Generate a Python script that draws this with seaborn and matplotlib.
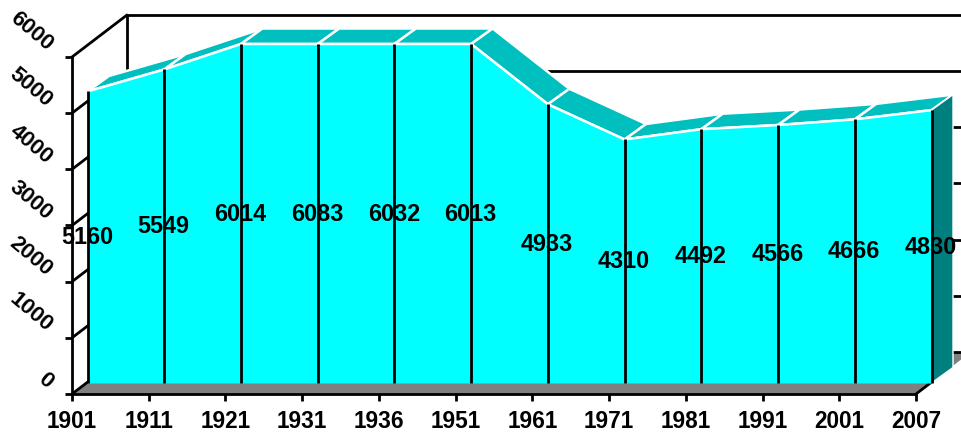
import numpy as np
import pandas as pd
import seaborn as sns
import matplotlib
matplotlib.use("Agg")
import matplotlib.pyplot as plt
from matplotlib.patches import Polygon
from matplotlib.lines import Line2D
from matplotlib.transforms import IdentityTransform, ScaledTranslation, offset_copy

years = ["1901", "1911", "1921", "1931", "1936", "1951",
         "1961", "1971", "1981", "1991", "2001", "2007"]
population = [5160, 5549, 6014, 6083, 6032, 6013,
              4933, 4310, 4492, 4566, 4666, 4830]
y_ticks = [0, 1000, 2000, 3000, 4000, 5000, 6000]
y_max = 6000

CYAN = "#00FFFF"
TOP = "#00BFBF"
SIDE = "#007F7F"
FLOOR = "#808080"

sns.set_theme(style="white")
plt.rcParams["font.family"] = ["Liberation Sans", "DejaVu Sans"]

W, H = 962, 434
fig = plt.figure(figsize=(W / 100, H / 100), dpi=100)
LINE = 2.0
X_TEXT_SIZE = 16.3
Y_TEXT_SIZE = 15.8
VALUE_TEXT_SIZE = 16.8


def box(left, top, right, bottom):
    return [left / W, 1 - bottom / H, (right - left) / W, (bottom - top) / H]


# Front frame of the 3D box: carries the real axes, ticks and tick labels.
ax = fig.add_axes(box(72, 57, 916, 394), zorder=1)
ax.set_xlim(0, len(years) - 1)
ax.set_ylim(0, y_max)
ax.patch.set_alpha(0)
for side in ("top", "right"):
    ax.spines[side].set_visible(False)
for side in ("left", "bottom"):
    ax.spines[side].set_linewidth(LINE)
    ax.spines[side].set_color("black")
ax.set_xticks(range(len(years)), years, fontsize=X_TEXT_SIZE, fontweight="bold", color="black")
ax.set_yticks(y_ticks, [str(t) for t in y_ticks], fontsize=Y_TEXT_SIZE, fontweight="bold", color="black")
ax.tick_params(axis="both", length=5, width=LINE, color="black", left=True, bottom=True)
ax.tick_params(axis="x", pad=6.5)
ax.tick_params(axis="y", pad=11)
shift = ScaledTranslation(0, 9.5 / 100, fig.dpi_scale_trans)
for label in ax.get_yticklabels():
    label.set_rotation(-40)
    label.set_rotation_mode("anchor")
    label.set_ha("right")
    label.set_va("center")
    label.set_transform(label.get_transform() + shift)

# Plane of the filled area, set a little way into the box.
ax_area = fig.add_axes(box(87.5, 44, 931.5, 383), zorder=2)
ax_area.set_xlim(0, len(years) - 1)
ax_area.set_ylim(0, y_max)
ax_area.patch.set_alpha(0)
ax_area.axis("off")

fig.canvas.draw()
pixel = IdentityTransform()
WALL_DX, WALL_DY = 55, 42
SLAB_DX, SLAB_DY = 21.5, 15.5


def frame_xy(x, y, depth=0.0):
    px, py = ax.transData.transform((x, y))
    return px + depth * WALL_DX, py + depth * WALL_DY


def area_xy(x, y, back=False):
    px, py = ax_area.transData.transform((x, y))
    return (px + SLAB_DX, py + SLAB_DY) if back else (px, py)


def wall_line(p, q, lw=LINE):
    ax.add_line(Line2D(*zip(p, q), color="black", lw=lw, transform=pixel,
                       clip_on=False, solid_capstyle="round"))


last = len(years) - 1
far = last + 1.5

# Floor of the box.
ax.add_patch(Polygon([frame_xy(0, 0), frame_xy(last, 0), frame_xy(last, 0, 1),
                      frame_xy(far, 0, 1), frame_xy(0, 0, 1)],
                     closed=True, fc=FLOOR, ec="none", transform=pixel,
                     clip_on=False, zorder=0.5))

# Back wall gridlines and the slanted lines on the side wall.
for t in y_ticks:
    wall_line(frame_xy(0, t), frame_xy(0, t, 1))
    wall_line(frame_xy(0, t, 1), frame_xy(far, t, 1))
wall_line(frame_xy(0, 0, 1), frame_xy(0, y_max, 1))
wall_line(frame_xy(last, 0), frame_xy(last, 0, 0.29))

# Area itself, capped at the top of the value axis.
tops = np.minimum(population, y_max)
xs = np.arange(len(years))

for i in range(last):
    ax_area.add_patch(Polygon(
        [area_xy(i, tops[i]), area_xy(i + 1, tops[i + 1]),
         area_xy(i + 1, tops[i + 1], True), area_xy(i, tops[i], True)],
        closed=True, fc=TOP, ec="white", lw=1.8, transform=pixel,
        clip_on=False, zorder=1))

ax_area.add_patch(Polygon(
    [area_xy(last, 0), area_xy(last, tops[last]),
     area_xy(last, tops[last], True), area_xy(last, 0, True)],
    closed=True, fc=SIDE, ec="white", lw=1.0, transform=pixel,
    clip_on=False, zorder=1))

ax_area.fill_between(xs, 0, tops, color=CYAN, lw=0, zorder=2, clip_on=False)

frame = pd.DataFrame({"position": xs, "value": tops})
sns.lineplot(data=frame, x="position", y="value", color="white", lw=1.8,
             ax=ax_area, zorder=3, clip_on=False, errorbar=None)
ax_area.vlines(xs, 0, tops, color="black", lw=LINE, zorder=4, clip_on=False)
ax_area.axis("off")

# Value labels sit halfway up the filled area.
value_trans = offset_copy(ax_area.transData, fig=fig, x=-0.7, y=-0.7, units="dots")
for x, top, value in zip(xs, tops, population):
    ax_area.text(x, top / 2, str(value), ha="center", va="center", transform=value_trans,
                 fontsize=VALUE_TEXT_SIZE, fontweight="bold", color="black", zorder=5)

fig.savefig("out.png", dpi=100, facecolor="white")
